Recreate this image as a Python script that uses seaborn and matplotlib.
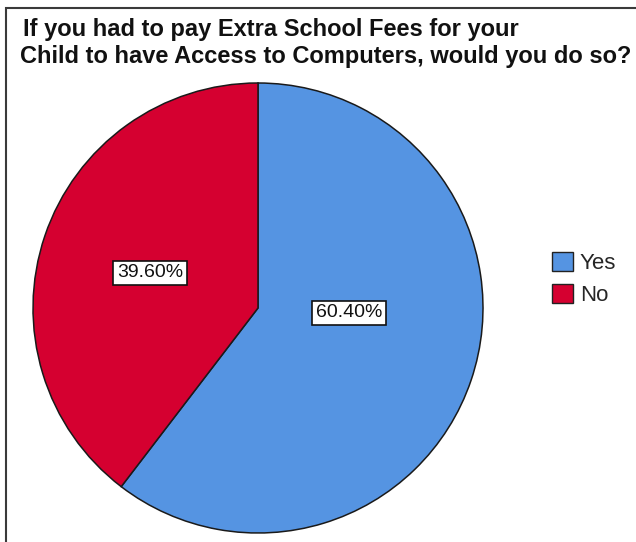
import matplotlib
matplotlib.use("Agg")
import matplotlib.pyplot as plt
from matplotlib.patches import Rectangle, Patch
import seaborn as sns

# Survey responses
categories = ["Yes", "No"]
percentages = [60.40, 39.60]
title_lines = ["If you had to pay Extra School Fees for your",
               "Child to have Access to Computers, would you do so?"]

sns.set_theme(style="white")
plt.rcParams["font.family"] = ["Liberation Sans", "DejaVu Sans"]
palette = sns.color_palette(["#5594E2", "#D50030"])

W, H = 636, 542
fig = plt.figure(figsize=(W / 100, H / 100), dpi=100)
fig.patch.set_facecolor("white")

def fx(px):
    return px / W

def fy(py):
    return 1 - py / H

# Outer chart frame
fig.patches.append(Rectangle((fx(6), fy(H + 10)), fx(W + 10), (H + 2) / H,
                             transform=fig.transFigure, fill=False,
                             edgecolor="#3a3a3a", linewidth=1.5))

# Title, two left-aligned bold lines
fig.text(fx(23), fy(36), title_lines[0], fontsize=17, fontweight="bold",
         ha="left", va="baseline", color="#111111")
fig.text(fx(20), fy(63), title_lines[1], fontsize=17, fontweight="bold",
         ha="left", va="baseline", color="#111111")

# Pie
cx, cy, r = 258, 308, 225
ax = fig.add_axes([fx(cx - r), fy(cy + r), (2 * r) / W, (2 * r) / H])
wedges, _ = ax.pie(percentages, colors=palette, startangle=90, counterclock=False,
                   radius=1.0,
                   wedgeprops=dict(edgecolor="#1a1a1a", linewidth=1.1))
ax.set_xlim(-1, 1)
ax.set_ylim(-1, 1)
ax.set_aspect("equal")
ax.axis("off")

# Percentage labels in boxed callouts
label_pos = {"Yes": (0.404, -0.022), "No": (-0.48, 0.156)}
for cat, val in zip(categories, percentages):
    x, y = label_pos[cat]
    ax.text(x, y, f"{val:.2f}%", ha="center", va="center", fontsize=14,
            color="#111111",
            bbox=dict(boxstyle="square,pad=0.2", facecolor="white",
                      edgecolor="#111111", linewidth=1.2))

# Legend
handles = [Patch(facecolor=c, edgecolor="#222222", linewidth=1.0) for c in palette]
fig.legend(handles, categories, loc="upper left",
           bbox_to_anchor=(fx(552), fy(252)), frameon=False, fontsize=16,
           handlelength=0.95, handleheight=0.95, handletextpad=0.3,
           labelspacing=0.42, borderpad=0, borderaxespad=0)

fig.savefig("out.png", dpi=100, facecolor="white")
